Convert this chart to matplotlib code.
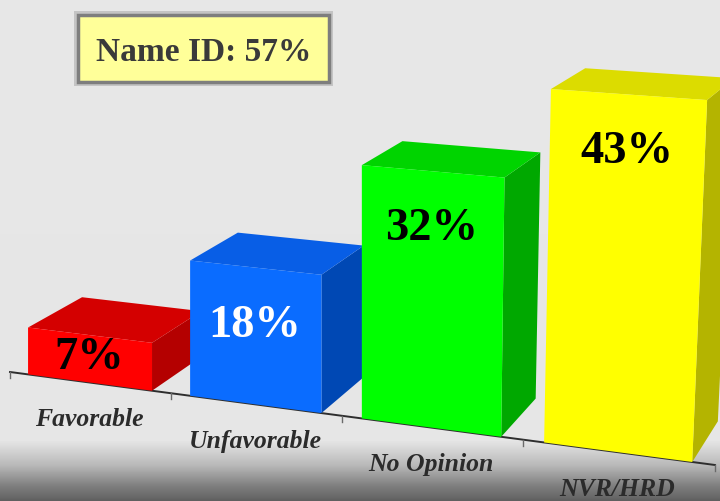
import numpy as np
import matplotlib

matplotlib.use('Agg')

import matplotlib.pyplot as plt
from matplotlib.patches import Polygon, Rectangle

# Data #
categories = ['Favorable', 'Unfavorable', 'No Opinion', 'NVR/HRD']
values = [7, 18, 32, 43]
value_labels = ['7%', '18%', '32%', '43%']
name_id = 57

# Styles #
front_colors = ['#ff0000', '#0a6cff', '#00ff00', '#ffff00']
top_colors = ['#d40000', '#085ee6', '#00d400', '#dcdc00']
side_colors = ['#b40000', '#0048b4', '#00a800', '#b4b400']
label_colors = ['black', 'white', 'black', 'black']

# Perspective camera, in pixel space (x = category, depth 0..1, value in %) #
U0, AX, AY = 89.36, 158.43, 58.65
V0, BX, BY, BZ = 382.47, 10.36, -15.9, -7.77
K, G = 0.02843, 0.0495
value_floor = 0.9
lean_c, lean_xc = 0.00129, 419.0  # verticals on the right spread out slightly with height
bar_width = 0.77


def project(x, depth, value):
    """Project a point of the 3D chart box to figure pixels."""
    w = 1 - K * x + G * depth
    u = U0 + AX * x + AY * depth
    v = V0 + BX * x + BY * depth + BZ * (value - value_floor)
    px, py = u / w, v / w
    px = px + lean_c * (value - value_floor) * max(px - lean_xc, 0)
    return px, py


figure = plt.figure(figsize=(7.2, 5.01), dpi=100)
ax = figure.add_axes([0, 0, 1, 1])
ax.set_xlim(0, 720)
ax.set_ylim(501, 0)
ax.axis('off')

# Background with a dark band at the bottom #
rows = np.arange(501)
shade = np.interp(rows, [0, 440, 465, 485, 501], [0.905, 0.90, 0.72, 0.50, 0.37])
ax.imshow(np.repeat(shade[:, None], 2, axis=1), cmap='gray', vmin=0, vmax=1, aspect='auto',
          extent=[0, 720, 501, 0], zorder=0)

# Floor axis and ticks #
ends = [project(x, 0, value_floor) for x in (-0.5, len(categories) - 0.5)]
ax.plot([p[0] for p in ends], [p[1] for p in ends], color='#2e2e2e', lw=1.4, zorder=1)
for x in np.arange(-0.5, len(categories), 1.0):
    px, py = project(x, 0, value_floor)
    ax.plot([px, px], [py, py + 6], color='#6a6a6a', lw=1, zorder=1)

# Bars, drawn from the far left to the near right #
for i, (val, label) in enumerate(zip(values, value_labels)):
    x0, x1 = i - bar_width / 2, i + bar_width / 2
    f00, f10 = project(x0, 0, value_floor), project(x1, 0, value_floor)
    f01, f11 = project(x0, 0, val), project(x1, 0, val)
    b01, b11 = project(x0, 1, val), project(x1, 1, val)
    b10 = project(x1, 1, value_floor)
    z = 2 + i
    ax.add_patch(Polygon([f10, b10, b11, f11], closed=True, fc=side_colors[i], ec='none', zorder=z))
    ax.add_patch(Polygon([f01, f11, b11, b01], closed=True, fc=top_colors[i], ec='none', zorder=z))
    ax.add_patch(Polygon([f00, f10, f11, f01], closed=True, fc=front_colors[i], ec='none', zorder=z))

    # Value label inside the front face #
    _, top_y = project(i, 0, val)
    _, bottom_y = project(i, 0, value_floor)
    depth_px = bottom_y - top_y
    label_value = val - min(54, 0.4 * depth_px) / depth_px * (val - value_floor)
    cx, cy = project(i, 0, label_value)
    ax.text(cx, cy + 15, label, ha='center', va='baseline', fontsize=33.5, fontweight='bold',
            family='Liberation Serif', color=label_colors[i], zorder=10)

    # Category label under the floor #
    lx, ly = project(i, 0, value_floor)
    ax.text(lx, ly + 44, categories[i], ha='center', va='baseline', fontsize=18.5, fontweight='bold',
            fontstyle='italic', family='Liberation Serif', color='#2b2b2b', zorder=10)

# Name ID box #
ax.add_patch(Rectangle((74, 11), 259, 75, fc='#9a9a9a', ec='none', alpha=0.45, zorder=8))
ax.add_patch(Rectangle((78, 15), 251, 67, fc='#ffff99', ec='#7e7e7e', lw=2.5, zorder=9))
ax.text(204, 61, 'Name ID: %d%%' % name_id, ha='center', va='baseline', fontsize=24, fontweight='bold',
        family='Liberation Serif', color='#3a3a3a', zorder=10)

plt.savefig('out.png', dpi=100)
